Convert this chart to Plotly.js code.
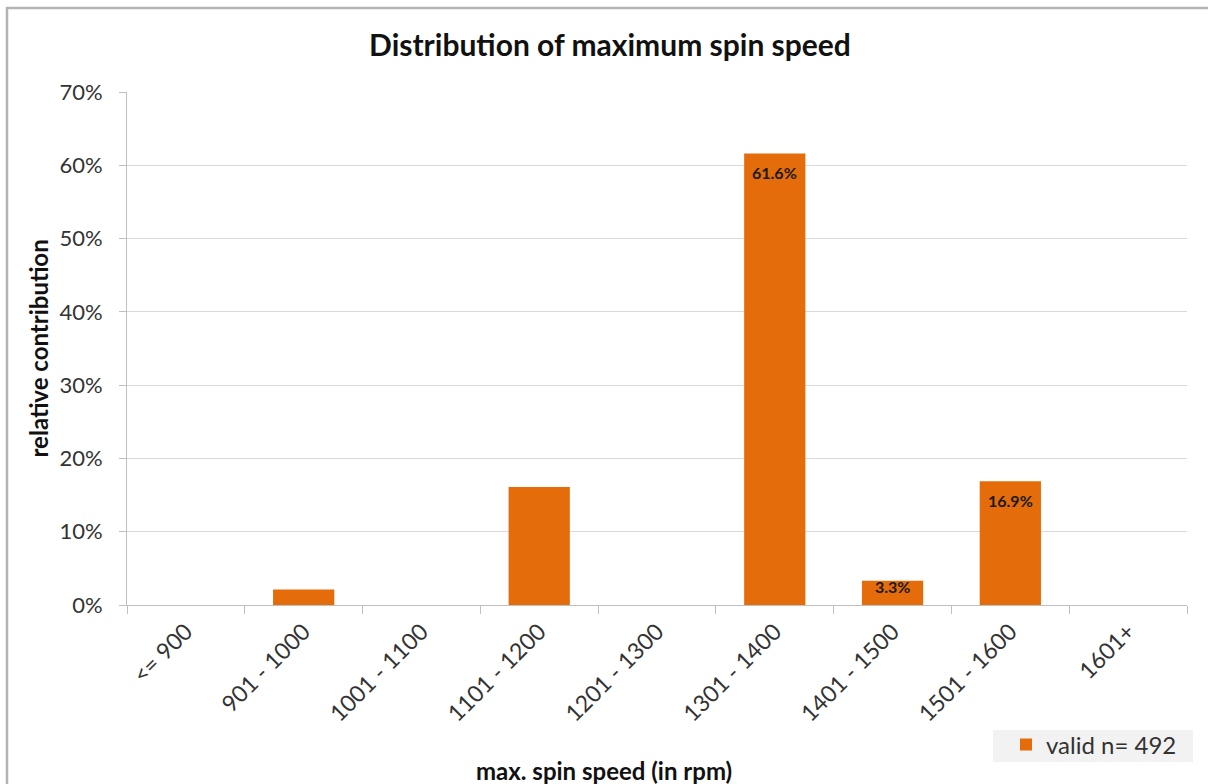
<!DOCTYPE html>
<html>
<head>
<meta charset="utf-8">
<script src="https://cdn.plot.ly/plotly-3.0.1.min.js"></script>
<style>html,body{margin:0;padding:0;background:#fff;overflow:hidden;}#chart{width:1208px;height:784px;}</style>
</head>
<body>
<div id="chart"></div>
<script>
const categories = ['<= 900', '901 - 1000', '1001 - 1100', '1101 - 1200', '1201 - 1300', '1301 - 1400', '1401 - 1500', '1501 - 1600', '1601+'];
const shares = [0, 2.1, 0, 16.1, 0, 61.6, 3.3, 16.9, 0];
const dataLabels = ['', '', '', '', '', '61.6%', '3.3%', '16.9%', ''];
const seriesName = 'valid n= 492';
const yTicks = [0, 10, 20, 30, 40, 50, 60, 70];

const FONT = 'Lato, "Open Sans", sans-serif';
const PLOT_W = 1208 - 127 - 21;
const PLOT_H = 784 - 92 - 179;
const Y_MAX = 70;
const px2x = p => (p - 127) / PLOT_W;
const px2y = p => (605 - p) / PLOT_H;

const trace = {
  type: 'bar',
  x: categories,
  y: shares,
  name: seriesName,
  showlegend: true,
  marker: {color: '#e46c0a'},
  hoverinfo: 'x+y'
};

// data labels placed inside the top end of each labelled bar
const labelAnnotations = [];
categories.forEach((c, i) => {
  if (!dataLabels[i]) return;
  const barPx = shares[i] / Y_MAX * PLOT_H;
  labelAnnotations.push({
    x: c, y: shares[i], xref: 'x', yref: 'y',
    text: '<b>' + dataLabels[i] + '</b>',
    showarrow: false,
    xanchor: 'center', yanchor: 'middle',
    yshift: -Math.min(19, barPx / 2 - 6),
    font: {family: FONT, size: 16, color: '#1a1a1a'}
  });
});

const layout = {
  width: 1208, height: 784,
  margin: {l: 127, r: 21, t: 92, b: 179},
  paper_bgcolor: '#ffffff',
  plot_bgcolor: '#ffffff',
  font: {family: FONT, color: '#333333'},
  bargap: 0.48,
  title: {
    text: '<b>Distribution of maximum spin speed</b>',
    font: {family: FONT, size: 30, color: '#111111'},
    x: 610 / 1208, xref: 'container', xanchor: 'center',
    y: 1 - 45 / 784, yref: 'container', yanchor: 'middle'
  },
  xaxis: {
    type: 'category',
    tickangle: -45,
    tickfont: {family: FONT, size: 23, color: '#333333'},
    ticklabelstandoff: 3,
    showline: true, linecolor: '#bfbfbf', linewidth: 1,
    ticks: 'outside', ticklen: 8, tickcolor: '#bfbfbf',
    tickson: 'boundaries',
    showgrid: false,
    zeroline: false
  },
  yaxis: {
    range: [0, Y_MAX],
    tickvals: yTicks,
    ticktext: yTicks.map(v => v + '%'),
    tickfont: {family: FONT, size: 22, color: '#333333'},
    ticklabelstandoff: 12,
    showline: true, linecolor: '#bfbfbf', linewidth: 1,
    ticks: 'outside', ticklen: 7, tickcolor: '#bfbfbf',
    showgrid: true, gridcolor: '#d9d9d9', gridwidth: 1,
    zeroline: false
  },
  legend: {
    orientation: 'h',
    x: px2x(1006), xanchor: 'left',
    y: px2y(745), yanchor: 'middle',
    bgcolor: 'rgba(0,0,0,0)',
    font: {family: FONT, size: 24, color: '#333333'},
    itemwidth: 30
  },
  annotations: [{
    text: '<b>max. spin speed (in rpm)</b>',
    xref: 'paper', yref: 'paper',
    x: px2x(604), y: px2y(770),
    xanchor: 'center', yanchor: 'middle',
    showarrow: false,
    font: {family: FONT, size: 24, color: '#111111'}
  }, {
    text: '<b>relative contribution</b>',
    xref: 'paper', yref: 'paper',
    x: px2x(38), y: 0.5,
    xanchor: 'center', yanchor: 'middle',
    textangle: -90,
    showarrow: false,
    font: {family: FONT, size: 24, color: '#111111'}
  }].concat(labelAnnotations),
  shapes: [{
    type: 'rect', xref: 'paper', yref: 'paper',
    x0: px2x(7), x1: px2x(1400),
    y0: px2y(900), y1: px2y(8),
    line: {color: '#b4b4b4', width: 2.5},
    fillcolor: 'rgba(0,0,0,0)',
    layer: 'below'
  }, {
    type: 'rect', xref: 'paper', yref: 'paper',
    x0: px2x(993), x1: px2x(1193),
    y0: px2y(762), y1: px2y(730),
    line: {width: 0},
    fillcolor: '#f2f2f2',
    layer: 'below'
  }]
};

Plotly.newPlot('chart', [trace], layout, {displayModeBar: false, staticPlot: true});
</script>
</body>
</html>
